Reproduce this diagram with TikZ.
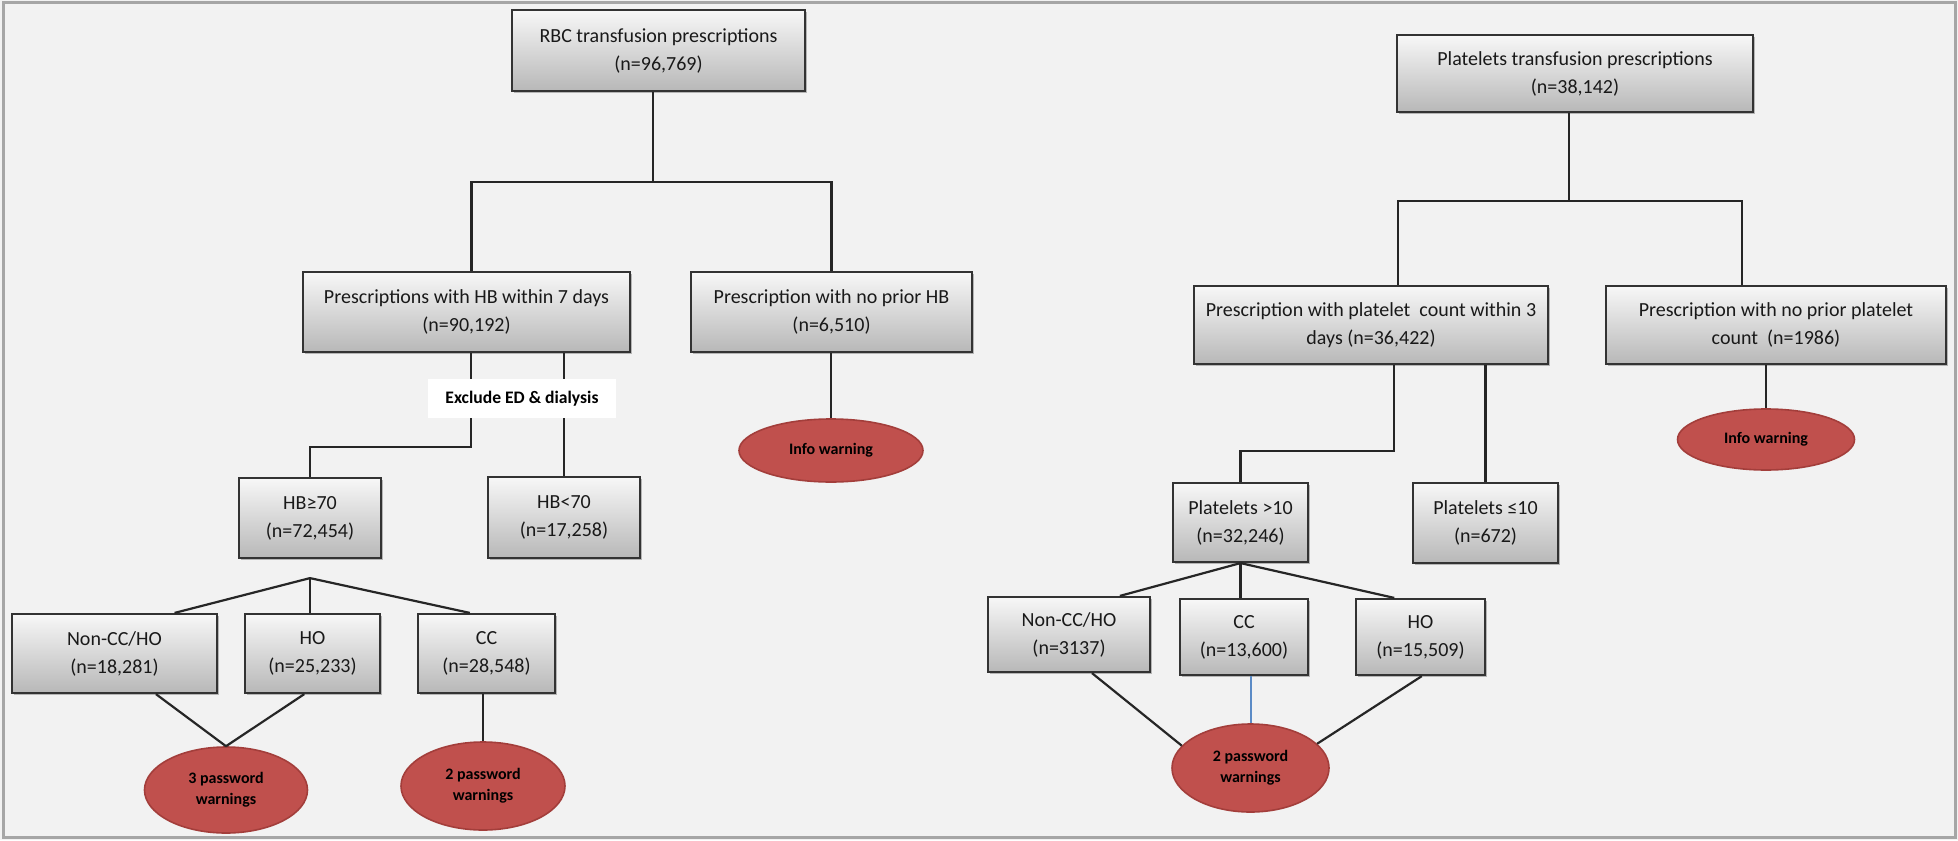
\documentclass[tikz,border=0pt]{standalone}
\usepackage{fontspec}
\setmainfont{Carlito}
\usetikzlibrary{shapes.geometric,shadows,calc}
\definecolor{bg}{HTML}{F2F2F2}
\definecolor{frm}{HTML}{A6A6A6}
\definecolor{wred}{HTML}{C0504D}
\definecolor{wredd}{HTML}{A33E3B}
\definecolor{lnk}{HTML}{262626}
\definecolor{blu}{HTML}{5B8BC6}
\begin{document}
\begin{tikzpicture}[x=0.5pt,y=-0.5pt,
  box/.style={draw=black!80, line width=1.1pt, top color=white!97!black, bottom color=white!72!black,
    inner sep=0pt, align=center, font=\fontsize{10}{14}\selectfont, text=black!90,
    drop shadow={shadow xshift=1.2pt, shadow yshift=-1.2pt, opacity=0.25, fill=black}},
  sz/.style 2 args={minimum width=#1*0.5pt, minimum height=#2*0.5pt},
  warn/.style={ellipse, fill=wred, draw=wredd, line width=0.8pt, inner sep=0pt, align=center,
    font=\bfseries\fontsize{8}{10.5}\selectfont, text=black},
  conn/.style={draw=lnk, line width=1.1pt},
  exclbox/.style={fill=white, inner sep=0pt, font=\bfseries\fontsize{8.8}{10}\selectfont, text=black}
]
\useasboundingbox (0,0) rectangle (1958,840);
\fill[bg] (0,0) rectangle (1958,840);
\draw[frm, line width=1.5pt] (3,3) rectangle (1955,837);

% ---------- left tree ----------
\node[box, sz={293}{81}] (rbc) at (658.5,50.5) {RBC transfusion prescriptions\\(n=96,769)};
\node[box, sz={327}{80}] (hb7) at (466.5,312) {Prescriptions with HB within 7 days\\(n=90,192)};
\node[box, sz={281}{80}] (nohb) at (831.5,312) {Prescription with no prior HB\\(n=6,510)};
\node[warn, sz={184}{63}] (info1) at (831,450.5) {Info warning};
\node[box, sz={142}{80}] (hbge) at (310,518) {HB≥70\\(n=72,454)};
\node[box, sz={152}{81}] (hblt) at (564,517.5) {HB<70\\(n=17,258)};
\node[box, sz={205}{79}] (ncc1) at (114.5,653.5) {Non-CC/HO\\(n=18,281)};
\node[box, sz={135}{79}] (ho1) at (312.5,653.5) {HO\\(n=25,233)};
\node[box, sz={137}{79}] (cc1) at (486.5,653.5) {CC\\(n=28,548)};
\node[warn, sz={163}{86}] (pw3) at (226,790) {3 password\\warnings};
\node[warn, sz={164}{88}] (pw2a) at (483,786) {2 password\\warnings};

\draw[conn] ($(rbc.south)+(-5.5,0)$) -- ++(0,90) coordinate (j1);
\draw[conn] ($(hb7.north)+(5,0)$) |- (j1) -| (nohb.north);
\draw[conn] ($(hb7.south)+(4.5,0)$) -- ++(0,94) -| (hbge.north);
\draw[conn] (hb7.south -| hblt.north) -- (hblt.north);
\draw[conn] (nohb.south -| info1.north) -- (info1.north);
\coordinate (f1) at ($(hbge.south)+(0,19)$);
\draw[conn] (f1) -- ($(ncc1.north west)!0.79!(ncc1.north east)$);
\draw[conn] (f1) -- (f1 |- ho1.north);
\draw[conn] (f1) -- ($(cc1.north west)!0.38!(cc1.north east)$);
\draw[conn] ($(ncc1.south west)!0.70!(ncc1.south east)$) -- (pw3.north);
\draw[conn] ($(ho1.south west)!0.44!(ho1.south east)$) -- (pw3.north);
\draw[conn] (cc1.south -| pw2a.north) -- (pw2a.north);
\node[exclbox, minimum width=94pt, minimum height=19.5pt] (excl) at (522,398.5) {Exclude ED \& dialysis};

% ---------- right tree ----------
\node[box, sz={356}{77}] (plt) at (1575,73.5) {Platelets transfusion prescriptions\\(n=38,142)};
\node[box, sz={354}{78}] (cnt) at (1371,325) {Prescription with platelet~ count within 3\\days (n=36,422)};
\node[box, sz={340}{78}] (nopl) at (1776,325) {Prescription with no prior platelet\\count~ (n=1986)};
\node[warn, sz={177}{61}] (info2) at (1766,439.5) {Info warning};
\node[box, sz={135}{79}] (pgt) at (1240.5,522.5) {Platelets >10\\(n=32,246)};
\node[box, sz={145}{80}] (ple) at (1485.5,523) {Platelets ≤10\\(n=672)};
\node[box, sz={162}{75}] (ncc2) at (1069,634.5) {Non-CC/HO\\(n=3137)};
\node[box, sz={128}{76}] (cc2) at (1244,637) {CC\\(n=13,600)};
\node[box, sz={129}{76}] (ho2) at (1420.5,637) {HO\\(n=15,509)};
\node[warn, sz={157}{88}] (pw2b) at (1250.5,768) {2 password\\warnings};

\draw[conn] ($(plt.south)+(-6,0)$) -- ++(0,88) coordinate (j2);
\draw[conn] ($(cnt.north)+(27,0)$) |- (j2) -| ($(nopl.north)+(-34,0)$);
\draw[conn] (nopl.south -| info2.north) -- (info2.north);
\draw[conn] ($(cnt.south)+(23,0)$) -- ++(0,86) -| (pgt.north);
\draw[conn] (cnt.south -| ple.north) -- (ple.north);
\draw[conn] (pgt.south) -- ($(ncc2.north west)!0.81!(ncc2.north east)$);
\draw[conn] (pgt.south) -- (pgt.south |- cc2.north);
\draw[conn] (pgt.south) -- ($(ho2.north west)!0.30!(ho2.north east)$);
\draw[conn] ($(ncc2.south west)!0.64!(ncc2.south east)$) -- (pw2b.162);
\draw[blu, line width=1pt] (cc2.south -| pw2b.north) -- (pw2b.north);
\draw[conn] ($(ho2.south west)!0.51!(ho2.south east)$) -- (pw2b.20);
\end{tikzpicture}
\end{document}
